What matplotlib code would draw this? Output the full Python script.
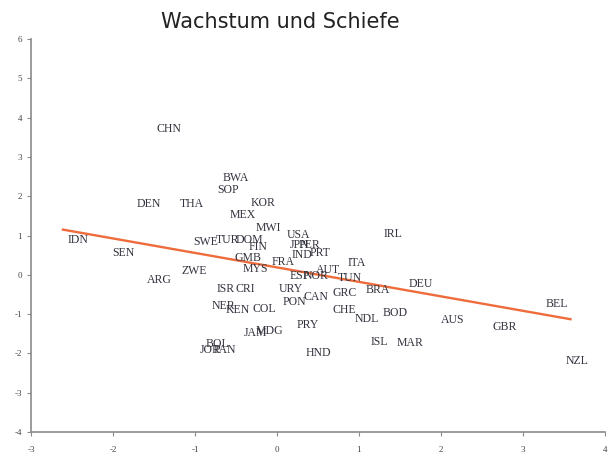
import numpy as np
import matplotlib
matplotlib.use("Agg")
import matplotlib.pyplot as plt

plt.rcParams["axes.unicode_minus"] = False

# Länder (Labels) und ihre Koordinaten: x = Schiefe, y = Wachstum
countries = ["CHN", "BWA", "SOP", "DEN", "THA", "KOR", "MEX", "MWI", "USA", "IRL",
             "IDN", "SEN", "SWE", "TUR", "DOM", "FIN", "JPN", "PER", "IND", "PRT",
             "GMB", "MYS", "FRA", "ITA", "AUT", "ESP", "NOR", "TUN", "ZWE", "ARG",
             "DEU", "BRA", "GRC", "URY", "ISR", "CRI", "CAN", "PON", "NER", "KEN",
             "COL", "CHE", "NDL", "BOD", "AUS", "GBR", "BEL", "PRY", "JAM", "MDG",
             "ISL", "MAR", "BOL", "JOR", "PAN", "HND", "NZL"]
skew = [-1.32, -0.50, -0.60, -1.56, -1.04, -0.17, -0.42, -0.10, 0.26, 1.42,
        -2.43, -1.87, -0.87, -0.60, -0.33, -0.23, 0.27, 0.40, 0.31, 0.52,
        -0.35, -0.26, 0.07, 0.98, 0.62, 0.28, 0.48, 0.89, -1.01, -1.43,
        1.76, 1.23, 0.83, 0.17, -0.62, -0.39, 0.48, 0.21, -0.65, -0.48,
        -0.15, 0.82, 1.10, 1.44, 2.14, 2.78, 3.42, 0.38, -0.26, -0.09,
        1.25, 1.62, -0.73, -0.82, -0.63, 0.51, 3.66]
growth = [3.72, 2.47, 2.17, 1.81, 1.81, 1.84, 1.51, 1.20, 1.02, 1.05,
          0.89, 0.56, 0.84, 0.89, 0.89, 0.71, 0.76, 0.76, 0.51, 0.56,
          0.43, 0.15, 0.33, 0.31, 0.13, -0.03, -0.03, -0.08, 0.10, -0.13,
          -0.23, -0.38, -0.46, -0.36, -0.36, -0.36, -0.56, -0.69, -0.79, -0.89,
          -0.87, -0.89, -1.12, -0.97, -1.15, -1.33, -0.74, -1.28, -1.48, -1.43,
          -1.71, -1.73, -1.76, -1.91, -1.91, -1.99, -2.19]

# Regressionsgerade
trend_x = [-2.61, 3.58]
trend_y = [1.15, -1.13]

fig = plt.figure(figsize=(6.11, 4.54), dpi=100)
ax = fig.add_axes([0.0507, 0.0485, 0.9393, 0.8655])

for c, x, y in zip(countries, skew, growth):
    ax.text(x, y, c, ha="center", va="center", fontsize=8.5,
            family="Liberation Serif", color="#33333f")

ax.plot(trend_x, trend_y, color="#ee6b3b", lw=1.7)

ax.set_xlim(-3, 4)
ax.set_ylim(-4, 6)
ax.set_xticks(range(-3, 5))
ax.set_yticks(range(-4, 7))
for s in ["top", "right"]:
    ax.spines[s].set_visible(False)
for s in ["left", "bottom"]:
    ax.spines[s].set_color("#8a8a8a")
    ax.spines[s].set_linewidth(1.2)
ax.tick_params(colors="#8a8a8a", length=3, width=0.8, labelsize=6.5,
               labelcolor="#444444")
for lab in ax.get_xticklabels() + ax.get_yticklabels():
    lab.set_family("Liberation Serif")
ax.tick_params(axis="x", pad=7)

fig.text(0.458, 0.952, "Wachstum und Schiefe", ha="center", va="center",
         fontsize=15, family="DejaVu Sans", color="#222222")

fig.savefig("out.png", dpi=100)
